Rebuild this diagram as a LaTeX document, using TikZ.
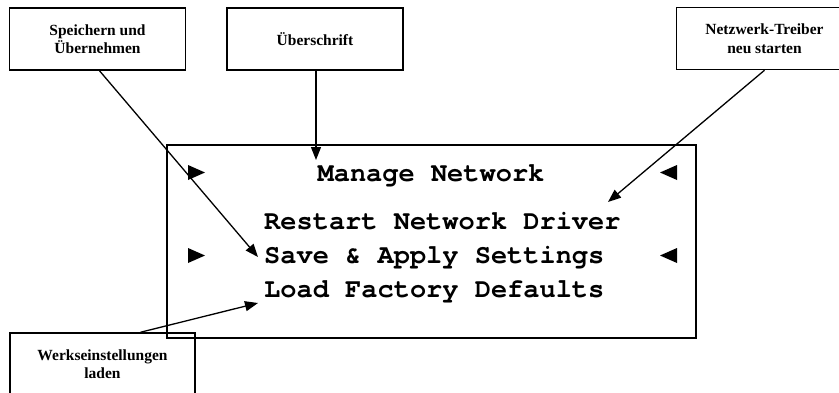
\documentclass[tikz,border=0pt]{standalone}
\usepackage{fontspec}
\setmainfont{Liberation Serif}
\newfontfamily\lcdfont{texgyrecursor-bold.otf}
\usetikzlibrary{arrows.meta,positioning,calc}

\begin{document}
\begin{tikzpicture}[x=1pt,y=-1pt,
  callout/.style={draw,line width=1.5pt,minimum width=176pt,minimum height=62pt,inner sep=0pt,align=center,font=\bfseries\fontsize{15.5}{18.5}\selectfont},
  lcdline/.style={anchor=base west,inner sep=0pt,font=\lcdfont\fontsize{27}{27}\selectfont},
  pointer/.style={line width=1.3pt,-{Triangle[length=13pt,width=10pt]}}]
\useasboundingbox (0,0) rectangle (839,392);
% display
\node[draw,line width=1.8pt,minimum width=529pt,minimum height=193pt,inner sep=0pt] (lcd) at (431.5,241.5) {};
\node[lcdline,anchor=base] (manage) at (431,181) {Manage Network};
\node[lcdline] (restart) at (264,229) {Restart Network Driver};
\node[lcdline] (save) at (264,263) {Save \& Apply Settings};
\node[lcdline] (load) at (264,297) {Load Factory Defaults};
\foreach \y in {172.5,255.5} {\fill (188,\y-7.5) -- (205,\y) -- (188,\y+7.5) -- cycle; \fill (677,\y-7.5) -- (660,\y) -- (677,\y+7.5) -- cycle;}
% callouts
\node[callout] (spei) at (97.5,39) {Speichern und\\Übernehmen};
\node[callout] (ueber) at (315,39) {Überschrift};
\node[callout] (netz) at (764.5,38.5) {Netzwerk-Treiber\\neu starten};
\node[callout,minimum width=185pt] (werk) at (102.5,364) {Werkseinstellungen\\laden};
\coordinate (mtip) at (316,160);
\coordinate (rtip) at (608,202);
\coordinate (stip) at (258,257);
\coordinate (ltip) at (258,303);
\draw[pointer] ([xshift=2pt]spei.south) -- (stip);
\draw[pointer] (ueber.south -| mtip) -- (mtip);
\draw[pointer] (netz.south) -- (rtip);
\draw[pointer] ([xshift=38pt]werk.north) -- (ltip);
\end{tikzpicture}
\end{document}
